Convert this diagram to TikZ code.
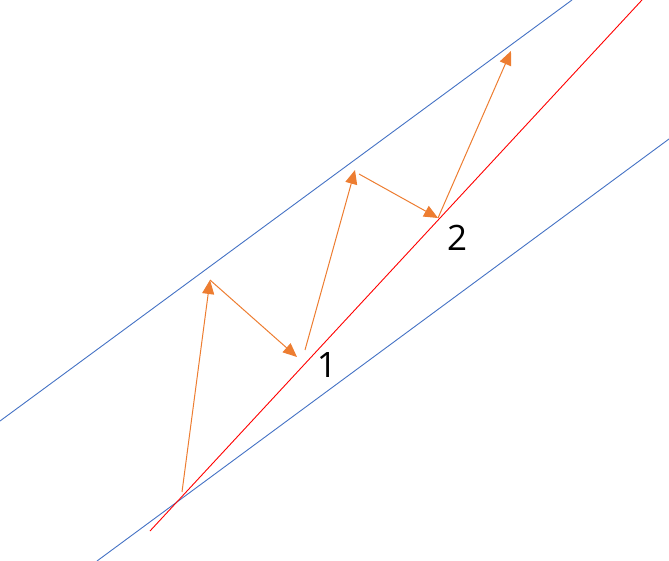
\documentclass[tikz,border=0pt]{standalone}
\usepackage{fontspec}
\setmainfont{Open Sans}
\usepackage{xcolor}
\usetikzlibrary{arrows.meta, positioning}

\definecolor{bandblue}{HTML}{4472C4}
\definecolor{steporange}{HTML}{ED7D31}

\tikzset{
  edge line/.style={draw=bandblue, line width=0.9pt},
  mid line/.style={draw=red, line width=0.9pt},
  move/.style={draw=steporange, line width=1pt,
    -{Triangle[length=14pt, width=12pt]}},
  marker/.style={font=\fontsize{35}{40}\selectfont, inner sep=0pt}
}

\begin{document}
\begin{tikzpicture}[x=1pt, y=-1pt]
\useasboundingbox (0,0) rectangle (669,561);

% band edges and centre line
\coordinate (UA) at (0,421);
\coordinate (UB) at (572,0);
\coordinate (LA) at (97,561);
\coordinate (LB) at (669,139);
\coordinate (RA) at (150,531);
\coordinate (RB) at (642,0);
\path[edge line] (UA) -- (UB);
\path[edge line] (LA) -- (LB);
\path[mid line] (RA) -- (RB);

% zig-zag steps
\coordinate (P0) at (182,492);
\coordinate (P1) at (210,280);
\coordinate (P2) at (297,357);
\coordinate (P3) at (305,350);
\coordinate (P4) at (355,170);
\coordinate (P5) at (359,174);
\coordinate (P6) at (438,218);
\coordinate (P7) at (511,51);

\path[move] (P0) -- (P1);
\path[move] (P1) -- (P2);
\path[move] (P3) -- (P4);
\path[move] (P5) -- (P6);
\path[move] (P6) -- (P7);

\node (M1) [marker] at (327,365) {1};
\node (M2) [marker] at (457,238) {2};
\end{tikzpicture}
\end{document}
